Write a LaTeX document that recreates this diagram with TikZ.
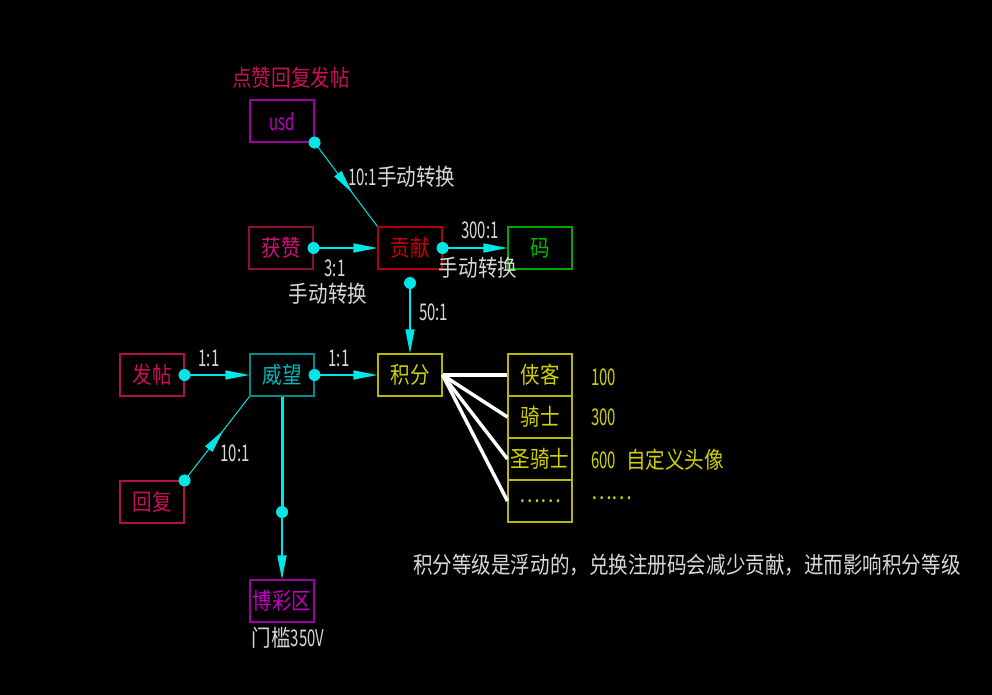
\documentclass[tikz,border=0pt]{standalone}
\usepackage{fontspec}
\usetikzlibrary{arrows.meta,decorations.markings}
\newfontfamily\cjk[FakeStretch=0.85]{Noto Sans CJK SC}
\newfontfamily\cadnum[FakeStretch=0.65]{Noto Sans CJK SC}
\definecolor{cyanc}{HTML}{00E5E5}
\definecolor{labelgray}{HTML}{D8D8D8}
\definecolor{magline}{HTML}{A000A0}
\definecolor{magtext}{HTML}{C000C0}
\definecolor{pinkline}{HTML}{B0104A}
\definecolor{pinktext}{HTML}{C8105A}
\definecolor{rosetext}{HTML}{D0107A}
\definecolor{redline}{HTML}{B00000}
\definecolor{redtext}{HTML}{C80000}
\definecolor{greenline}{HTML}{00A800}
\definecolor{greentext}{HTML}{00B800}
\definecolor{tealline}{HTML}{008C8C}
\definecolor{tealtext}{HTML}{00B8B8}
\definecolor{yelline}{HTML}{B8B800}
\definecolor{yeltext}{HTML}{D0D000}
\begin{document}
\begin{tikzpicture}[x=1pt,y=-1pt,
    box/.style={draw, rectangle, minimum width=64pt, minimum height=42pt, inner sep=0pt, line width=1.1pt, font=\cjk\fontsize{23}{23}\selectfont},
    link/.style={cyanc, line width=1.4pt, -{Triangle[length=24pt,width=9pt]}},
    midlink/.style={cyanc, line width=1pt, postaction={decorate},
        decoration={markings, mark=at position 0.6 with {\arrow[cyanc]{Triangle[length=24pt,width=9pt]}}}},
    lbl/.style={text=labelgray, inner sep=0pt, font=\cjk\fontsize{23}{23}\selectfont},
    rank/.style={text=yeltext, inner sep=0pt, font=\cjk\fontsize{23}{23}\selectfont}
]
    \fill[black] (0,0) rectangle (992,695);

    % boxes
    \node[box, draw=magline, text=magtext] (usd) at (282,121) {\cadnum usd};
    \node[box, draw=pinkline!80!black, text=rosetext] (huozan) at (281,248) {获赞};
    \node[box, draw=redline, text=redtext] (gongxian) at (410,248) {贡献};
    \node[box, draw=greenline, text=greentext] (ma) at (540,248) {码};
    \node[box, draw=pinkline, text=pinktext] (fatie) at (152,375) {发帖};
    \node[box, draw=tealline, text=tealtext] (weiwang) at (282,375) {威望};
    \node[box, draw=yelline, text=yeltext] (jifen) at (410,375) {积分};
    \node[box, draw=pinkline, text=pinktext] (huifu) at (152,502) {回复};
    \node[box, draw=magline, text=magtext] (bocai) at (282,601) {博彩区};

    % rank ladder
    \node[box, draw=yelline, text=yeltext] (rank1) at (540,375) {侠客};
    \node[box, draw=yelline, text=yeltext] (rank2) at (540,417) {骑士};
    \node[box, draw=yelline, text=yeltext] (rank3) at (540,459) {圣骑士};
    \node[box, draw=yelline, text=yeltext] (rank4) at (540,501) {……};

    \coordinate (gxdot) at (410,283);
    \coordinate (wwdot) at (282,512);

    % connectors
    \draw[midlink] (usd.south east) -- (gongxian.north west);
    \draw[link] (huozan.east) -- (gongxian.west);
    \draw[link] (gongxian.east) -- (ma.west);
    \draw[link] (gxdot) -- (jifen.north);
    \draw[link] (fatie.east) -- (weiwang.west);
    \draw[link] (weiwang.east) -- (jifen.west);
    \draw[midlink] (huifu.north east) -- (weiwang.south west);
    \draw[cyanc, line width=3pt] (weiwang.south) -- (wwdot);
    \draw[link] (wwdot) -- (bocai.north);
    \foreach \d in {usd.south east, huozan.east, gongxian.east, gxdot, fatie.east, weiwang.east, huifu.north east, wwdot}
        \fill[cyanc] (\d) circle (6pt);

    \draw[white, line width=3.5pt] (jifen.east) -- (rank1.west);
    \draw[white, line width=3.5pt] (jifen.east) -- (rank2.west);
    \draw[white, line width=3.5pt] (jifen.east) -- (rank3.west);
    \draw[white, line width=3.5pt] (jifen.east) -- (rank4.west);

    % labels
    \node[lbl, text=pinktext] (title) at (291,78) {点赞回复发帖};
    \node[lbl, anchor=west] (l1) at (348,177) {{\cadnum 10:1}手动转换};
    \node[lbl] (l2a) at (335,268) {\cadnum 3:1};
    \node[lbl] (l2b) at (328,294) {手动转换};
    \node[lbl] (l3a) at (480,230) {\cadnum 300:1};
    \node[lbl] (l3b) at (478,268) {手动转换};
    \node[lbl, anchor=west] (l4) at (419,312) {\cadnum 50:1};
    \node[lbl] (l5) at (209,358) {\cadnum 1:1};
    \node[lbl] (l6) at (339,358) {\cadnum 1:1};
    \node[lbl] (l7) at (235,453) {\cadnum 10:1};
    \node[lbl] (l8) at (288,638) {门槛{\cadnum 350V}};

    \node[rank, anchor=west] (p1) at (591,377) {\cadnum 100};
    \node[rank, anchor=west] (p2) at (591,417) {\cadnum 300};
    \node[rank, anchor=west] (p3) at (591,460) {{\cadnum 600}\hspace{10pt}自定义头像};
    \node[rank, anchor=west] (p4) at (591,498) {……};

    \node[lbl, anchor=west] (note) at (413,565) {积分等级是浮动的，兑换注册码会减少贡献，进而影响积分等级};
\end{tikzpicture}
\end{document}
